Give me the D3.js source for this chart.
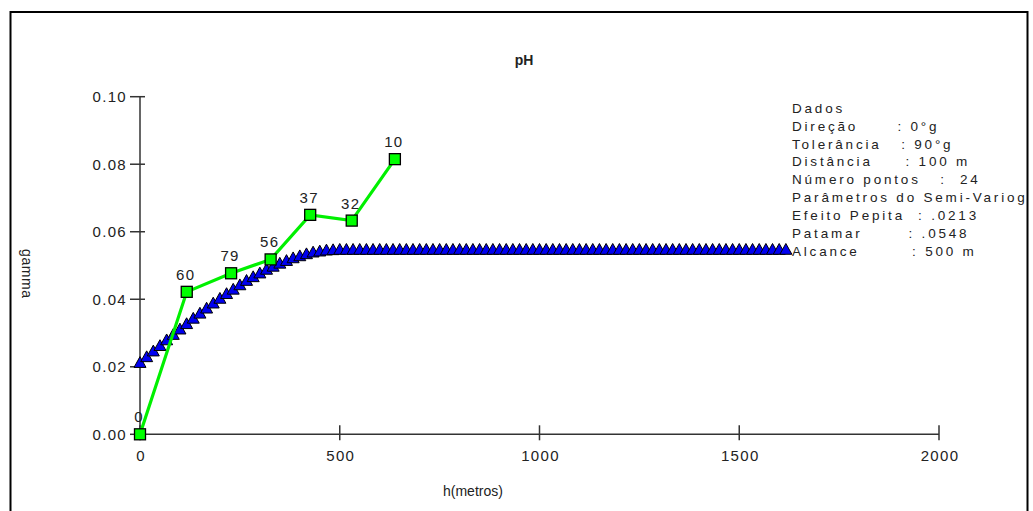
<!DOCTYPE html>
<html>
<head>
<meta charset="utf-8">
<script src="https://cdn.jsdelivr.net/npm/d3@7"></script>
<style>
  html, body { margin: 0; padding: 0; background: #ffffff; }
  svg { display: block; }
  text { font-family: "Liberation Sans", Arial, sans-serif; fill: #222; }
</style>
</head>
<body>
<svg id="chart" width="1033" height="511"></svg>
<script>
// Experimental semivariogram: lag distance (m), gamma, number of pairs
const lagH = [0, 117, 228, 327, 426, 530, 638];
const lagGamma = [0, 0.0422, 0.0477, 0.0518, 0.0650, 0.0633, 0.0815];
const lagPairs = [0, 60, 79, 56, 37, 32, 10];

// Fitted spherical model, sampled along h
const modelH = [
  0, 16.7, 33.3, 50, 66.7, 83.3, 100, 116.7, 133.3, 150,
  166.7, 183.3, 200, 216.7, 233.3, 250, 266.7, 283.3, 300, 316.7,
  333.3, 350, 366.7, 383.3, 400, 416.7, 433.3, 450, 466.7, 483.3,
  500, 516.7, 533.3, 550, 566.7, 583.3, 600, 616.7, 633.3, 650,
  666.7, 683.3, 700, 716.7, 733.3, 750, 766.7, 783.3, 800, 816.7,
  833.3, 850, 866.7, 883.3, 900, 916.7, 933.3, 950, 966.7, 983.3,
  1000, 1016.7, 1033.3, 1050, 1066.7, 1083.3, 1100, 1116.7, 1133.3, 1150,
  1166.7, 1183.3, 1200, 1216.7, 1233.3, 1250, 1266.7, 1283.3, 1300, 1316.7,
  1333.3, 1350, 1366.7, 1383.3, 1400, 1416.7, 1433.3, 1450, 1466.7, 1483.3,
  1500, 1516.7, 1533.3, 1550, 1566.7, 1583.3, 1600, 1616.7
];
const modelGamma = [
  0.0213, 0.0230, 0.0247, 0.0263, 0.0280, 0.0296, 0.0312, 0.0328, 0.0344, 0.0359,
  0.0374, 0.0389, 0.0403, 0.0417, 0.0430, 0.0443, 0.0456, 0.0467, 0.0478, 0.0489,
  0.0498, 0.0507, 0.0515, 0.0523, 0.0529, 0.0535, 0.0540, 0.0543, 0.0546, 0.0547,
  0.0548, 0.0548, 0.0548, 0.0548, 0.0548, 0.0548, 0.0548, 0.0548, 0.0548, 0.0548,
  0.0548, 0.0548, 0.0548, 0.0548, 0.0548, 0.0548, 0.0548, 0.0548, 0.0548, 0.0548,
  0.0548, 0.0548, 0.0548, 0.0548, 0.0548, 0.0548, 0.0548, 0.0548, 0.0548, 0.0548,
  0.0548, 0.0548, 0.0548, 0.0548, 0.0548, 0.0548, 0.0548, 0.0548, 0.0548, 0.0548,
  0.0548, 0.0548, 0.0548, 0.0548, 0.0548, 0.0548, 0.0548, 0.0548, 0.0548, 0.0548,
  0.0548, 0.0548, 0.0548, 0.0548, 0.0548, 0.0548, 0.0548, 0.0548, 0.0548, 0.0548,
  0.0548, 0.0548, 0.0548, 0.0548, 0.0548, 0.0548, 0.0548, 0.0548
];

// Axis ticks
const xTicks = [0, 500, 1000, 1500, 2000];
const yTicks = [0, 0.02, 0.04, 0.06, 0.08, 0.10];

// Text labels
const titleText = "pH";
const xLabel = "h(metros)";
const yLabel = "gamma";
const infoLines = [
  "Dados",
  "Direção      : 0°g",
  "Tolerância   : 90°g",
  "Distância     : 100 m",
  "Número pontos   :  24",
  "Parâmetros do Semi-Variograma",
  "Efeito Pepita  : .0213",
  "Patamar       : .0548",
  "Alcance        : 500 m"
];

const svg = d3.select("#chart");

const x = d3.scaleLinear().domain([0, 2000]).range([140, 939]);
const y = d3.scaleLinear().domain([0, 0.1]).range([434.3, 96.7]);

// Clip region inside the frame
svg.append("defs").append("clipPath").attr("id", "frameClip")
  .append("rect").attr("x", 11).attr("y", 13).attr("width", 1016).attr("height", 500);

const g = svg.append("g").attr("clip-path", "url(#frameClip)");

// Title
g.append("text")
  .attr("x", 524).attr("y", 65)
  .attr("text-anchor", "middle")
  .style("font-weight", "bold").style("font-size", "14px")
  .text(titleText);

// Y axis
const yAxis = g.append("g");
yAxis.append("line")
  .attr("x1", x(0)).attr("x2", x(0))
  .attr("y1", y(0.1)).attr("y2", y(0))
  .attr("stroke", "#333").attr("stroke-width", 1.5);
yAxis.selectAll(".yt").data(yTicks).enter().append("line")
  .attr("x1", x(0) - 10).attr("x2", x(0) + 5)
  .attr("y1", d => y(d)).attr("y2", d => y(d))
  .attr("stroke", "#333").attr("stroke-width", 1.5);
yAxis.selectAll(".yl").data(yTicks).enter().append("text")
  .attr("x", 127).attr("y", d => y(d) + 5.5)
  .attr("text-anchor", "end")
  .style("font-size", "15px").style("letter-spacing", "1.3px")
  .text(d => d3.format(".2f")(d));

// X axis
const xAxis = g.append("g");
xAxis.append("line")
  .attr("x1", x(0)).attr("x2", x(2000))
  .attr("y1", y(0)).attr("y2", y(0))
  .attr("stroke", "#333").attr("stroke-width", 1.5);
xAxis.selectAll(".xt").data(xTicks).enter().append("line")
  .attr("x1", d => x(d)).attr("x2", d => x(d))
  .attr("y1", y(0) - 9).attr("y2", y(0) + 6)
  .attr("stroke", "#333").attr("stroke-width", 1.5);
xAxis.selectAll(".xl").data(xTicks).enter().append("text")
  .attr("x", d => x(d) + 1).attr("y", 461)
  .attr("text-anchor", "middle")
  .style("font-size", "15px").style("letter-spacing", "1.3px")
  .text(d => d);

// Axis titles
g.append("text")
  .attr("x", 443).attr("y", 496)
  .style("font-size", "14px")
  .text(xLabel);
g.append("text")
  .attr("transform", "translate(22,249) rotate(90)")
  .style("font-size", "14px").style("letter-spacing", "0.6px")
  .text(yLabel);

// Model curve (blue triangles)
const modelPts = modelH.map((h, i) => ({ h, v: modelGamma[i] }));
const tri = (cx, cy) => `M${cx},${cy - 5.8}L${cx + 6},${cy + 5}L${cx - 6},${cy + 5}Z`;
g.append("g").selectAll("path").data(modelPts).enter().append("path")
  .attr("d", d => tri(x(d.h), y(d.v)))
  .attr("fill", "#0000f0").attr("stroke", "#000").attr("stroke-width", 1);

// Experimental points (green line + squares)
const expPts = lagH.map((h, i) => ({ h, v: lagGamma[i], n: lagPairs[i] }));
g.append("path")
  .datum(expPts)
  .attr("d", d3.line().x(d => x(d.h)).y(d => y(d.v)))
  .attr("fill", "none").attr("stroke", "#00f000").attr("stroke-width", 3.2);
g.append("g").selectAll("rect").data(expPts).enter().append("rect")
  .attr("x", d => x(d.h) - 5.5).attr("y", d => y(d.v) - 5.5)
  .attr("width", 11).attr("height", 11)
  .attr("fill", "#00ff00").attr("stroke", "#000").attr("stroke-width", 1.3);
g.append("g").selectAll("text").data(expPts).enter().append("text")
  .attr("x", d => x(d.h) - 1).attr("y", d => y(d.v) - 12)
  .attr("text-anchor", "middle")
  .style("font-size", "15px").style("letter-spacing", "1.3px")
  .text(d => d.n);

// Info block
g.append("g").selectAll("text").data(infoLines).enter().append("text")
  .attr("x", 792).attr("y", (d, i) => 112.7 + i * 17.9)
  .attr("xml:space", "preserve")
  .style("white-space", "pre")
  .style("font-size", "13.5px").style("letter-spacing", "2.8px")
  .text(d => d);

// Frame
svg.append("rect")
  .attr("x", 10.5).attr("y", 12).attr("width", 1017).attr("height", 520)
  .attr("fill", "none").attr("stroke", "#000").attr("stroke-width", 2);
</script>
</body>
</html>
